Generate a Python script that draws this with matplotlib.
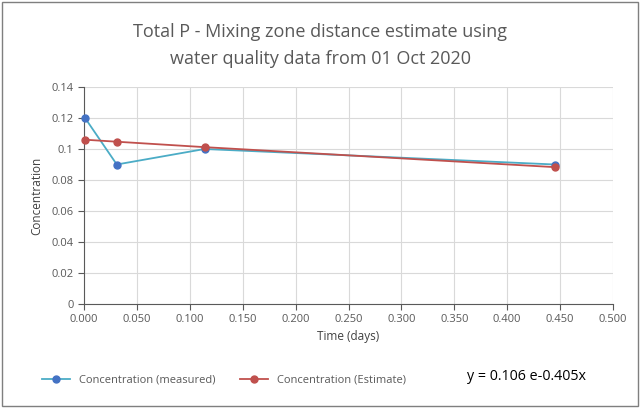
import matplotlib
matplotlib.use("Agg")
import matplotlib.pyplot as plt
from matplotlib.patches import Rectangle

plt.rcParams['font.family'] = ['Open Sans', 'DejaVu Sans']

time_days = [0.001, 0.031, 0.114, 0.445]
conc_measured = [0.12, 0.09, 0.10, 0.09]
conc_estimate = [0.1060, 0.1047, 0.1012, 0.0883]
x_ticks = [0.0, 0.05, 0.1, 0.15, 0.2, 0.25, 0.3, 0.35, 0.4, 0.45, 0.5]
y_ticks = [0, 0.02, 0.04, 0.06, 0.08, 0.1, 0.12, 0.14]
y_labels = ['0', '0.02', '0.04', '0.06', '0.08', '0.1', '0.12', '0.14']

fig = plt.figure(figsize=(6.4, 4.08), dpi=100)
fig.patches.append(Rectangle((0.003, 0.004), 0.994, 0.992, transform=fig.transFigure,
                             fill=False, edgecolor='#7f7f7f', linewidth=1.0))
ax = fig.add_axes([84/640, 1-304/408, (613-84)/640, (304-87)/408])

ax.plot(time_days, conc_measured, color='#4BACC6', linewidth=1.3, marker='o',
        markersize=5, markerfacecolor='#4472C4', markeredgecolor='#4472C4',
        label='Concentration (measured)', zorder=3, clip_on=False)
ax.plot(time_days, conc_estimate, color='#C0504D', linewidth=1.3, marker='o',
        markersize=5, markerfacecolor='#C0504D', markeredgecolor='#C0504D',
        label='Concentration (Estimate)', zorder=3, clip_on=False)

ax.set_xlim(0, 0.5)
ax.set_ylim(0, 0.14)
ax.set_xticks(x_ticks)
ax.set_xticklabels([f'{t:.3f}' for t in x_ticks])
ax.set_yticks(y_ticks)
ax.set_yticklabels(y_labels)
ax.grid(True, color='#d9d9d9', linewidth=0.8)
ax.set_axisbelow(True)
for s in ['top', 'right']:
    ax.spines[s].set_visible(False)
ax.spines['left'].set_color('#595959')
ax.spines['bottom'].set_color('#595959')
ax.tick_params(axis='both', labelsize=8, colors='#595959', length=4, direction='out')
ax.tick_params(axis='x', pad=3)

ax.set_xlabel('Time (days)', fontsize=8.5, color='#404040', labelpad=4)
ax.set_ylabel('Concentration', fontsize=8.5, color='#404040', labelpad=6)

fig.text(0.5, 0.922, 'Total P - Mixing zone distance estimate using', ha='center',
         va='center', fontsize=13, color='#595959')
fig.text(0.5, 0.855, 'water quality data from 01 Oct 2020', ha='center',
         va='center', fontsize=13, color='#595959')

fig.legend(loc='center', bbox_to_anchor=(0.35, 0.068), ncol=2, frameon=False,
           fontsize=8, labelcolor='#595959', handlelength=2.5, columnspacing=2.2)
fig.text(0.73, 0.077, 'y = 0.106 e-0.405x', fontsize=10.3, color='black', va='center')

fig.savefig('out.png', dpi=100)
